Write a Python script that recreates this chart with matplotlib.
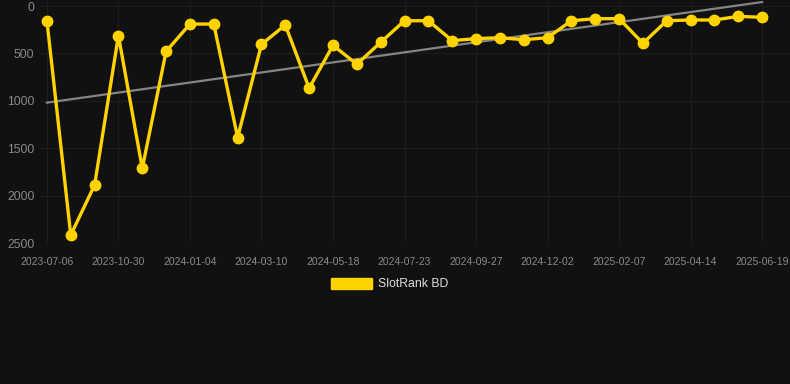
import numpy as np
import matplotlib
matplotlib.use("Agg")
import matplotlib.pyplot as plt
from matplotlib.patches import Patch

# SlotRank BD rank history (lower rank number = better, axis inverted)
tick_labels = ["2023-07-06", "2023-10-30", "2024-01-04", "2024-03-10", "2024-05-18",
               "2024-07-23", "2024-09-27", "2024-12-02", "2025-02-07", "2025-04-14",
               "2025-06-19"]
tick_step = 3

rank = [155, 2416, 1889, 312, 1713, 478, 190, 190, 1387, 404,
        200, 867, 414, 614, 383, 155, 155, 365, 344, 334,
        355, 334, 155, 133, 133, 393, 155, 147, 147, 109,
        119]
y_ticks = [0, 500, 1000, 1500, 2000, 2500]

plt.rcParams["font.family"] = ["Liberation Sans", "DejaVu Sans"]

bg = "#111111"
yellow = "#FFD300"
grid_col = "#1d1d1d"
text_col = "#8a8a8a"

W, H = 790, 384
fig = plt.figure(figsize=(W / 100, H / 100), dpi=100, facecolor=bg)
ax = fig.add_axes([40 / W, 1 - 243 / H, 750 / W, (243 - 1.3) / H], facecolor=bg)

x = np.arange(len(rank))
ax.set_xlim(-0.29, len(rank) - 1 + 1.17)
ax.set_ylim(2500, -50)

# trend line (least squares fit over the points)
k, b = np.polyfit(x, rank, 1)
ax.plot(x, k * x + b, color="#858585", lw=1.6, zorder=2)

ax.plot(x, rank, color=yellow, lw=2.4, marker="o", markersize=7.5,
        markerfacecolor=yellow, markeredgecolor=yellow, zorder=3)

ax.set_xticks(x[::tick_step])
ax.set_xticklabels(tick_labels)
ax.set_yticks(y_ticks)
ax.grid(True, color=grid_col, lw=0.8)
ax.set_axisbelow(True)
ax.tick_params(axis="x", length=0, pad=10, labelsize=7.5, labelcolor=text_col)
ax.tick_params(axis="y", length=0, pad=4, labelsize=8.8, labelcolor=text_col)
for s in ax.spines.values():
    s.set_visible(False)

handle = Patch(facecolor=yellow, edgecolor=yellow)
leg = fig.legend([handle], ["SlotRank BD"], loc="center", bbox_to_anchor=(390 / W, 1 - 284 / H),
                 frameon=False, fontsize=8.8, handlelength=3.3, handleheight=1.0,
                 handletextpad=0.55)
for t in leg.get_texts():
    t.set_color("#dddddd")

fig.savefig("out.png", dpi=100, facecolor=bg)
